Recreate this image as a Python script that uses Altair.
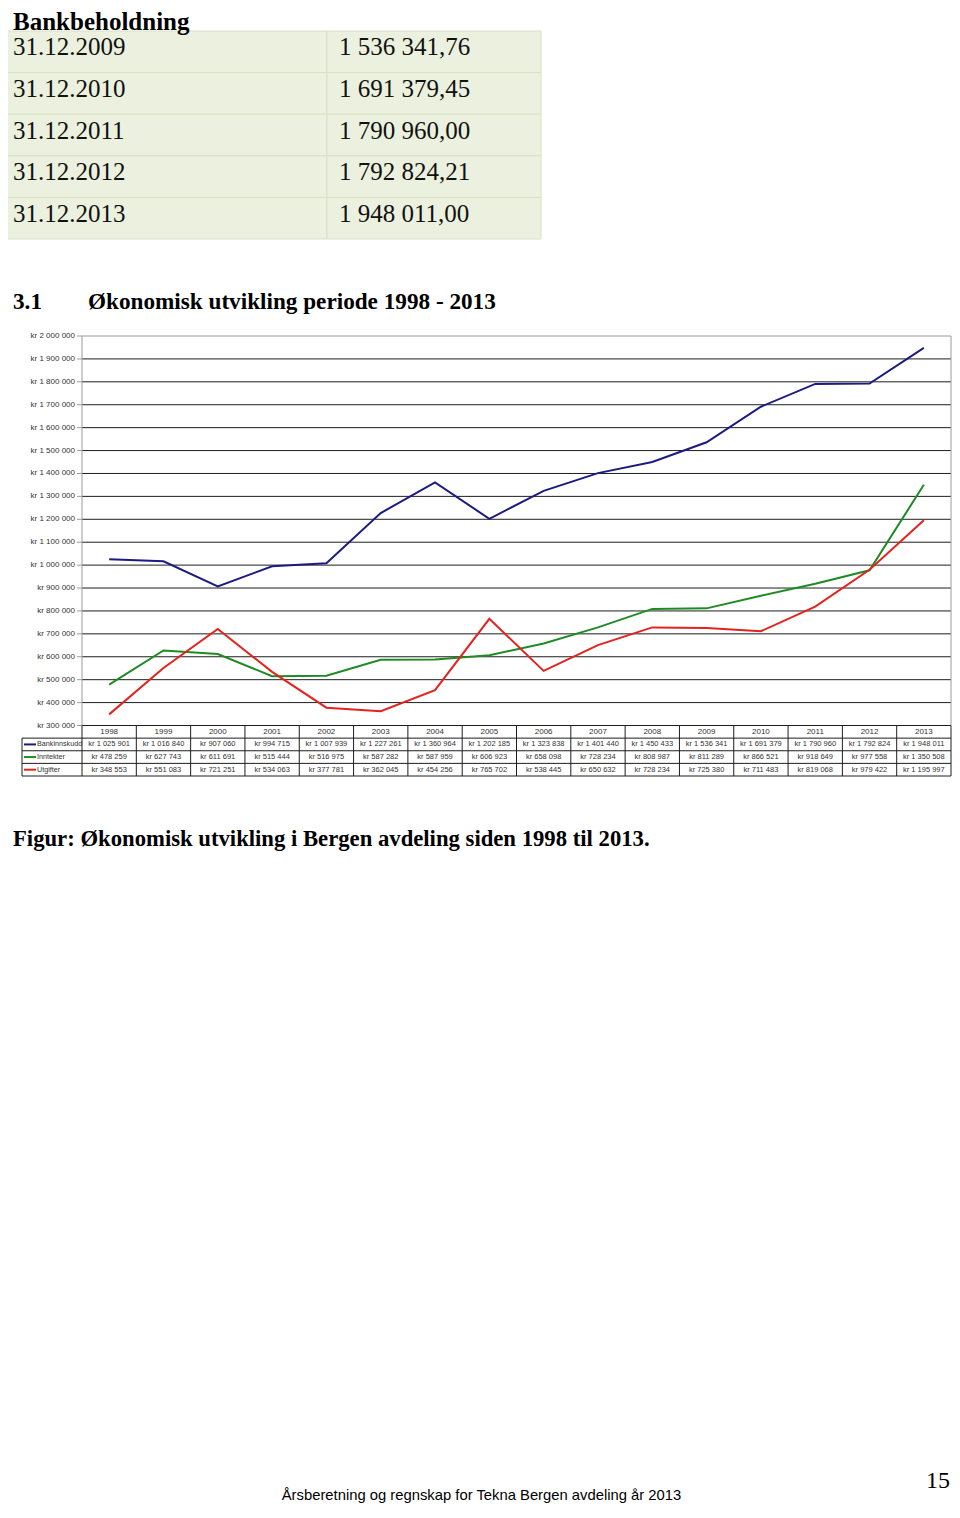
import altair as alt
import pandas as pd

# ---------------- data ----------------
years = [str(y) for y in range(1998, 2014)]
bankinnskudd = [1025901, 1016840, 907060, 994715, 1007939, 1227261, 1360964, 1202185,
                1323838, 1401440, 1450433, 1536341, 1691379, 1790960, 1792824, 1948011]
inntekter = [478259, 627743, 611691, 515444, 516975, 587282, 587959, 606923,
             658098, 728234, 808987, 811289, 866521, 918649, 977558, 1350508]
utgifter = [348553, 551083, 721251, 534063, 377781, 362045, 454256, 765702,
            538445, 650632, 728234, 725380, 711483, 819068, 979422, 1195997]
series_names = ["Bankinnskudd", "Inntekter", "Utgifter"]
series_colors = ["#1c1c80", "#1f8b24", "#e2231e"]

bank_dates = ["31.12.2009", "31.12.2010", "31.12.2011", "31.12.2012", "31.12.2013"]
bank_values = ["1 536 341,76", "1 691 379,45", "1 790 960,00", "1 792 824,21", "1 948 011,00"]

y_ticks = list(range(300000, 2000001, 100000))

title_text = "Bankbeholdning"
heading_num = "3.1"
heading_text = "Økonomisk utvikling periode 1998 - 2013"
caption_text = "Figur: Økonomisk utvikling i Bergen avdeling siden 1998 til 2013."
page_number = "15"
footer_text = "Årsberetning og regnskap for Tekna Bergen avdeling år 2013"


def kr(v):
    return "kr " + f"{v:,}".replace(",", " ")


# ---------------- frames ----------------
long = pd.DataFrame(
    [
        {"year": y, "series": s, "value": v, "label": kr(v)}
        for s, vals in zip(series_names, [bankinnskudd, inntekter, utgifter])
        for y, v in zip(years, vals)
    ]
)
ticks_df = pd.DataFrame({"tick": y_ticks, "label": [kr(t) for t in y_ticks]})
years_df = pd.DataFrame({"year": years, "row": ["year"] * len(years)})
series_df = pd.DataFrame({"series": series_names})
bank_df = pd.DataFrame({"date": bank_dates, "value": bank_values})
one = pd.DataFrame({"a": [0]})

# ---------------- geometry ----------------
PX0, PX1 = 74, 943
PY_TOP, PY_BOT = 328, 717.5
TBL_BOT = 768
ROW_H = (TBL_BOT - PY_BOT) / 4
LEG_X = 14

x_pt = alt.Scale(type="point", domain=years, range=[PX0, PX1], padding=0.5)
x_band = alt.Scale(type="band", domain=years, range=[PX0, PX1], paddingInner=0, paddingOuter=0)
y_val = alt.Scale(type="linear", domain=[300000, 2000000], range=[PY_BOT, PY_TOP], nice=False, zero=False)
row_names = ["year"] + series_names
y_row = alt.Scale(type="band", domain=row_names, range=[PY_BOT, TBL_BOT], paddingInner=0, paddingOuter=0)
y_bank = alt.Scale(type="band", domain=bank_dates, range=[23, 231], paddingInner=0, paddingOuter=0)
color_scale = alt.Scale(domain=series_names, range=series_colors)

SERIF = "Liberation Serif"
SANS = "Liberation Sans"
GRID = "#1e1e1e"
BORDER = "#9a9a9a"
TXT = "#333333"


def label(txt, x, y, size, weight="normal", font=SERIF, align="left", color="#000000"):
    return alt.Chart(one).mark_text(
        text=txt, align=align, baseline="alphabetic", font=font,
        fontSize=size, fontWeight=weight, color=color,
    ).encode(x=alt.value(x), y=alt.value(y))


layers = []

# ---- top table ----
for x0, x1 in [(-2, 319), (319, 533)]:
    layers.append(
        alt.Chart(bank_df).mark_rect(fill="#EBF1DE", stroke="#D7E2C6", strokeWidth=1).encode(
            x=alt.value(x0), x2=alt.value(x1),
            y=alt.Y("date:N", scale=y_bank, axis=None),
        )
    )
layers.append(
    alt.Chart(bank_df).mark_text(align="left", baseline="alphabetic", font=SERIF, fontSize=25,
                                 color="#111111", dy=3.5).encode(
        x=alt.value(5), y=alt.Y("date:N", scale=y_bank, axis=None), text="date:N",
    )
)
layers.append(
    alt.Chart(bank_df).mark_text(align="left", baseline="alphabetic", font=SERIF, fontSize=25,
                                 color="#111111", dy=3.5).encode(
        x=alt.value(331), y=alt.Y("date:N", scale=y_bank, axis=None), text="value:N",
    )
)
layers.append(label(title_text, 5, 22, 25, weight="bold"))
layers.append(label(heading_num, 5, 301, 23.2, weight="bold"))
layers.append(label(heading_text, 80, 301, 23.2, weight="bold"))

# ---- chart grid ----
layers.append(
    alt.Chart(ticks_df).mark_rule(strokeWidth=1).encode(
        x=alt.value(PX0), x2=alt.value(PX1),
        y=alt.Y("tick:Q", scale=y_val, axis=None),
        color=alt.condition(alt.datum.tick >= 2000000, alt.value(BORDER), alt.value(GRID)),
    )
)
layers.append(
    alt.Chart(ticks_df).mark_rule(strokeWidth=1, color=BORDER).encode(
        x=alt.value(PX0 - 5), x2=alt.value(PX0),
        y=alt.Y("tick:Q", scale=y_val, axis=None),
    )
)
layers.append(
    alt.Chart(ticks_df).mark_text(align="right", baseline="middle", font=SANS, fontSize=8,
                                  color=TXT).encode(
        x=alt.value(PX0 - 7),
        y=alt.Y("tick:Q", scale=y_val, axis=None),
        text="label:N",
    )
)
# axis line and right border
layers.append(
    alt.Chart(one).mark_rule(strokeWidth=1, color=BORDER).encode(
        x=alt.value(PX0), y=alt.value(PY_TOP), y2=alt.value(PY_BOT)
    )
)
layers.append(
    alt.Chart(one).mark_rule(strokeWidth=1, color=BORDER).encode(
        x=alt.value(PX1), y=alt.value(PY_TOP), y2=alt.value(PY_BOT)
    )
)

# ---- data table under chart ----
layers.append(
    alt.Chart(years_df).mark_rule(strokeWidth=1, color=GRID).encode(
        x=alt.X("year:O", scale=x_band, axis=None, bandPosition=0),
        y=alt.value(PY_BOT), y2=alt.value(TBL_BOT),
    )
)
layers.append(
    alt.Chart(series_df).mark_rule(strokeWidth=1, color=GRID).encode(
        x=alt.value(LEG_X), x2=alt.value(PX1),
        y=alt.Y("series:N", scale=y_row, axis=None, bandPosition=0),
    )
)
layers.append(
    alt.Chart(one).mark_rule(strokeWidth=1, color=GRID).encode(
        x=alt.value(LEG_X), x2=alt.value(PX1), y=alt.value(TBL_BOT)
    )
)
layers.append(
    alt.Chart(one).mark_rule(strokeWidth=1, color=GRID).encode(
        x=alt.value(LEG_X), y=alt.value(PY_BOT + ROW_H), y2=alt.value(TBL_BOT)
    )
)
layers.append(
    alt.Chart(one).mark_rule(strokeWidth=1, color=GRID).encode(
        x=alt.value(PX1), y=alt.value(PY_BOT), y2=alt.value(TBL_BOT)
    )
)
layers.append(
    alt.Chart(years_df).mark_text(align="center", baseline="middle", font=SANS, fontSize=8,
                                  color=TXT).encode(
        x=alt.X("year:O", scale=x_pt, axis=None),
        y=alt.Y("row:N", scale=y_row, axis=None),
        text="year:N",
    )
)
layers.append(
    alt.Chart(long).mark_text(align="center", baseline="middle", font=SANS, fontSize=7.5,
                              color=TXT).encode(
        x=alt.X("year:O", scale=x_pt, axis=None),
        y=alt.Y("series:N", scale=y_row, axis=None),
        text="label:N",
    )
)
layers.append(
    alt.Chart(series_df).mark_rule(strokeWidth=2).encode(
        x=alt.value(LEG_X + 2), x2=alt.value(LEG_X + 14),
        y=alt.Y("series:N", scale=y_row, axis=None, bandPosition=0.5),
        color=alt.Color("series:N", scale=color_scale, legend=None),
    )
)
layers.append(
    alt.Chart(series_df).mark_text(align="left", baseline="middle", font=SANS, fontSize=7.2,
                                   color=TXT).encode(
        x=alt.value(LEG_X + 15),
        y=alt.Y("series:N", scale=y_row, axis=None),
        text="series:N",
    )
)

# ---- lines ----
layers.append(
    alt.Chart(long).mark_line(strokeWidth=2).encode(
        x=alt.X("year:O", scale=x_pt, axis=None),
        y=alt.Y("value:Q", scale=y_val, axis=None),
        color=alt.Color("series:N", scale=color_scale, legend=None),
        detail="series:N",
    )
)

# ---- caption & footer ----
layers.append(label(caption_text, 5, 838, 22.7, weight="bold"))
layers.append(label(page_number, 942, 1480, 24, align="right"))
layers.append(label(footer_text, 473.5, 1492, 14.8, font=SANS, align="center"))

chart = (
    alt.layer(*layers)
    .resolve_scale(x="independent", y="independent", color="independent")
    .properties(width=944, height=1496, autosize=alt.AutoSizeParams(type="none"), padding=0,
                background="white")
    .configure_view(stroke=None)
)

chart.save("out.html", embed_options={"renderer": "svg", "actions": False})
